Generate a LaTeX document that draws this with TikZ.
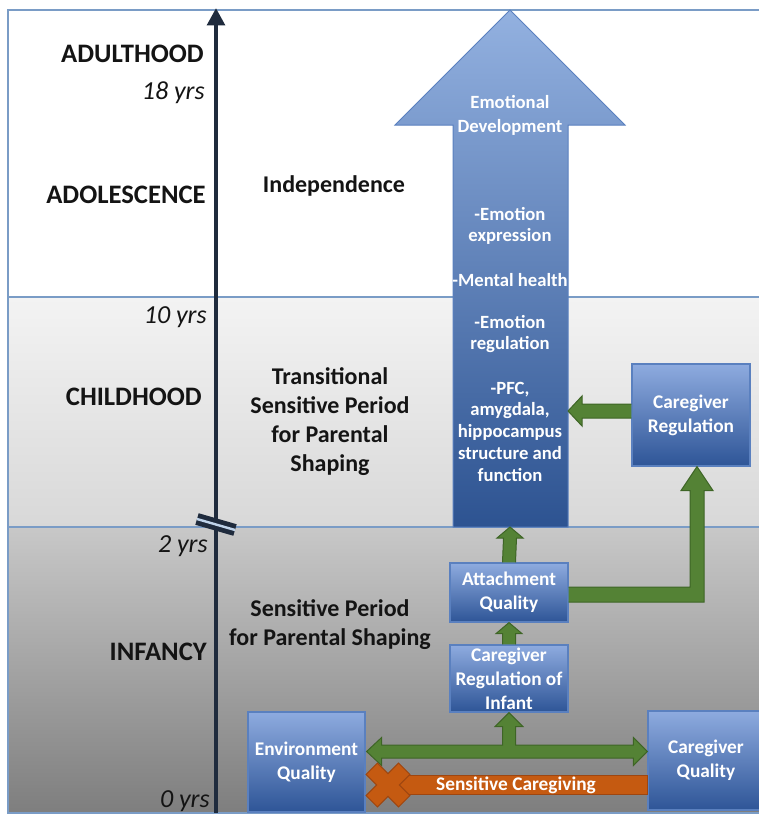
\documentclass[tikz,border=0pt]{standalone}
\usepackage{fontspec}
\setmainfont{Carlito}
\usetikzlibrary{arrows.meta,calc}
\definecolor{axisc}{HTML}{1F2B3D}
\definecolor{frame}{HTML}{7A9CC6}
\definecolor{boxtop}{HTML}{8EABDF}
\definecolor{boxbot}{HTML}{2E5597}
\definecolor{boxline}{HTML}{5A80BF}
\definecolor{arrtop}{HTML}{93B1E0}
\definecolor{arrbot}{HTML}{2D5391}
\definecolor{grn}{HTML}{548235}
\definecolor{grnline}{HTML}{3E6526}
\definecolor{org}{HTML}{C55A11}
\definecolor{orgline}{HTML}{9E4610}
\definecolor{txt}{HTML}{141414}
\definecolor{midtop}{HTML}{F3F3F3}
\definecolor{midbot}{HTML}{D8D8D8}
\definecolor{lowtop}{HTML}{C8C8C8}
\definecolor{lowbot}{HTML}{7E7E7E}
\definecolor{breakgap}{HTML}{BFD3EA}
\begin{document}
\begin{tikzpicture}[x=0.75pt,y=-0.75pt,
 age/.style={anchor=east, inner sep=0, font=\fontsize{20}{24}\selectfont\bfseries, text=txt},
 yrs/.style={anchor=east, inner sep=0, font=\fontsize{19.5}{24}\selectfont\itshape, text=txt},
 period/.style={align=center, inner sep=0, font=\fontsize{18}{21.75}\selectfont\bfseries, text=txt},
 ebox/.style={draw=boxline, line width=0.9pt, top color=boxtop, bottom color=boxbot, text=white, align=center, inner sep=0, font=\fontsize{14.5}{18}\selectfont\bfseries},
 atext/.style={text=white, align=center, inner sep=0, font=\fontsize{14}{16.3}\selectfont\bfseries},
 blockarrow/.style={fill=grn, draw=grnline, line width=0.75pt, line join=miter},
 ]
\useasboundingbox (0,0) rectangle (758,817);
% panels
\fill[white] (8,10) rectangle (770,297);
\shade[top color=midtop, bottom color=midbot] (8,297) rectangle (770,527);
\shade[top color=lowtop, bottom color=lowbot] (8,527) rectangle (770,813);
\draw[frame, line width=1.1pt] (770,10) -- (8,10) -- (8,813) -- (770,813);
\draw[frame, line width=1.1pt] (8,297) -- (770,297);
\draw[frame, line width=1.1pt] (8,527) -- (770,527);

% timeline axis
\coordinate (axb) at (216,813);
\coordinate (axt) at (216,8);
\draw[axisc, line width=3.6pt, -{Triangle[length=13pt,width=13pt]}] (axb) -- (axt);
\coordinate (brk1) at (197,519);
\coordinate (brk2) at (235,530);
\draw[axisc, line width=9pt] (brk1) -- (brk2);
\draw[breakgap, line width=1.8pt] (brk1) -- (brk2);

% age labels
\node[age] (adult) at (204,53.5) {ADULTHOOD};
\node[yrs] (y18) at (205,93) {18 yrs};
\node[age] (adol) at (206,195) {ADOLESCENCE};
\node[yrs] (y10) at (207,317) {10 yrs};
\node[age] (child) at (202,397) {CHILDHOOD};
\node[yrs] (y2) at (208,546) {2 yrs};
\node[age] (inf) at (207,652) {INFANCY};
\node[yrs] (y0) at (210,801) {0 yrs};

% period labels
\node[period] (indep) at (334,186) {Independence};
\node[period] (trans) at (330,422) {Transitional\\Sensitive Period\\for Parental\\Shaping};
\node[period] (sens) at (330,625) {Sensitive Period\\for Parental Shaping};

% big arrow
\shade[top color=arrtop, bottom color=arrbot, draw=boxline, line width=0.75pt]
  (510,10) -- (625,125) -- (568,125) -- (568,527) -- (453,527) -- (453,125) -- (395,125) -- cycle;
\coordinate (edb) at (510,527);
\coordinate (edr) at (568,411);
\node[atext, font=\fontsize{14}{18}\selectfont\bfseries] (ed1) at (510,115) {Emotional\\Development};
\node[atext] (ed2) at (510,226) {-Emotion\\expression};
\node[atext] (ed3) at (510,280) {-Mental health};
\node[atext] (ed4) at (510,334) {-Emotion\\regulation};
\node[atext] (ed5) at (510,431.5) {-PFC,\\amygdala,\\hippocampus\\structure and\\function};

% boxes
\node[ebox, minimum width=88.5pt, minimum height=76.5pt] (cr) at (691,415) {Caregiver\\Regulation};
\node[ebox, minimum width=88.5pt, minimum height=44.25pt] (att) at (509,592.5) {Attachment\\Quality};
\node[ebox, minimum width=88.5pt, minimum height=50.25pt] (cri) at (509,678.5) {Caregiver\\Regulation of\\Infant};
\node[ebox, minimum width=87.75pt, minimum height=75pt] (env) at (306.5,762) {Environment\\Quality};
\node[ebox, minimum width=87pt, minimum height=74.25pt] (cq) at (706,760.5) {Caregiver\\Quality};

% green arrows
\draw[blockarrow] ($(cr.west |- edr)+(0,-7)$) -- ($(edr)+(14,-7)$) -- ($(edr)+(14,-15)$) -- (edr) -- ($(edr)+(14,15)$) -- ($(edr)+(14,7)$) -- ($(cr.west |- edr)+(0,7)$);
\draw[blockarrow] ($(cri.north)+(-6.5,0)$) -- ($(att.south)+(-6.5,11)$) -- ($(att.south)+(-13,11)$) -- (att.south) -- ($(att.south)+(13,11)$) -- ($(att.south)+(6.5,11)$) -- ($(cri.north)+(6.5,0)$);
\draw[blockarrow] ($(att.north)+(-6.5,0)$) -- ($(edb)+(-6.5,11)$) -- ($(edb)+(-13,11)$) -- (edb) -- ($(edb)+(13,11)$) -- ($(edb)+(6.5,11)$) -- ($(att.north)+(6.5,0)$);
\coordinate (ct) at ($(cr.south)+(6,0)$);
\draw[blockarrow] ($(att.east)+(0,-5.5)$) -- ($(ct |- att.east)+(-7,-5.5)$) -- ($(ct)+(-7,24)$) -- ($(ct)+(-16,24)$) -- (ct) -- ($(ct)+(16,24)$) -- ($(ct)+(7,24)$) -- ($(ct |- att.east)+(7,9.5)$) -- ($(att.east)+(0,9.5)$);
\coordinate (dl) at ($(env.east)+(1,-10.5)$);
\coordinate (dr) at (cq.west |- dl);
\coordinate (du) at (cri.south);
\draw[blockarrow] (dl) -- ($(dl)+(15,-14)$) -- ($(dl)+(15,-6.5)$) -- ($(du |- dl)+(-6.5,-6.5)$) -- ($(du)+(-6.5,14)$) -- ($(du)+(-14,14)$) -- (du) -- ($(du)+(14,14)$) -- ($(du)+(6.5,14)$) -- ($(du |- dl)+(6.5,-6.5)$) -- ($(dr)+(-14,-6.5)$) -- ($(dr)+(-14,-14)$) -- (dr) -- ($(dr)+(-14,14)$) -- ($(dr)+(-14,6.5)$) -- ($(dl)+(15,6.5)$) -- ($(dl)+(15,14)$) -- cycle;

% sensitive caregiving (orange)
\coordinate (xm) at (388,785);
\draw[fill=org, draw=orgline, line width=0.75pt] ($(xm)+(0,-9.5)$) rectangle ($(cq.west |- xm)+(0,9.5)$);
\draw[fill=org, draw=orgline, line width=0.75pt, shift={(xm)}, rotate=45]
  (8,23) -- (8,8) -- (23,8) -- (23,-8) -- (8,-8) -- (8,-23) -- (-8,-23) -- (-8,-8) -- (-23,-8) -- (-23,8) -- (-8,8) -- (-8,23) -- cycle;
\node[text=white, inner sep=0, font=\fontsize{14.5}{18}\selectfont\bfseries] (sc) at (516,785) {Sensitive Caregiving};
\end{tikzpicture}
\end{document}
